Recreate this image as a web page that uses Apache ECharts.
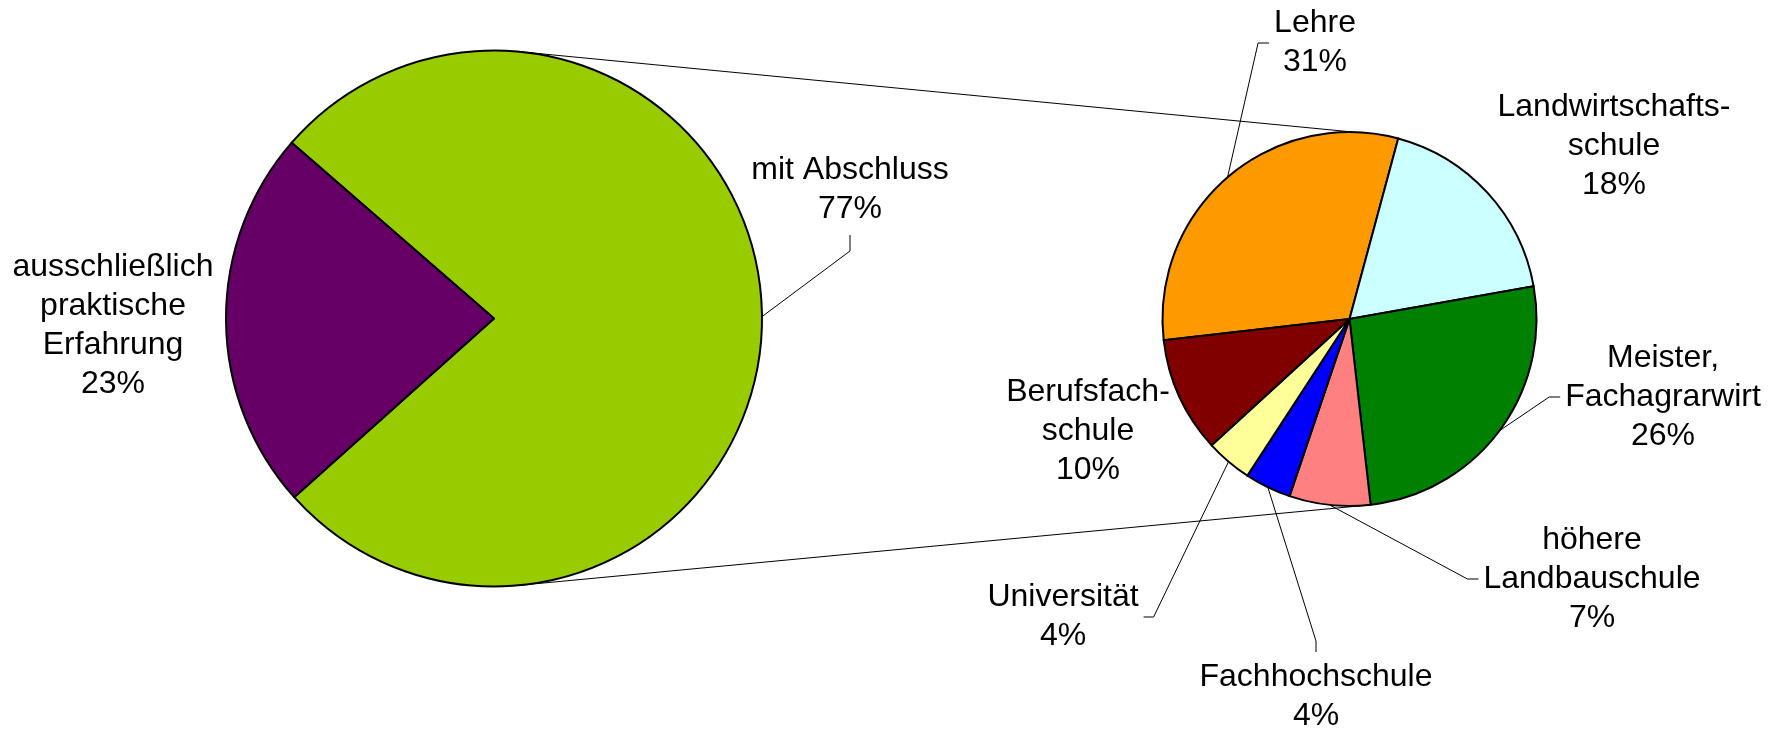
<!DOCTYPE html>
<html>
<head>
<meta charset="utf-8">
<script src="https://cdn.jsdelivr.net/npm/echarts@6/dist/echarts.min.js"></script>
<style>
  html, body { margin: 0; padding: 0; background: #fff; }
  #chart { width: 1777px; height: 732px; }
</style>
</head>
<body>
<div id="chart"></div>
<script>
// Pie-of-pie: share with a formal qualification, broken down by type of qualification.

var mainNames = ['mit Abschluss', 'ausschließlich\npraktische\nErfahrung'];
var mainValues = [77, 23];
var mainColors = ['#99cc00', '#660066'];

var detailNames = ['Lehre', 'Landwirtschafts-\nschule', 'Meister,\nFachagrarwirt', 'höhere\nLandbauschule',
                   'Fachhochschule', 'Universität', 'Berufsfach-\nschule'];
var detailValues = [31, 18, 26, 7, 4, 4, 10];
var detailColors = ['#ff9900', '#ccffff', '#008000', '#ff8080', '#0000ff', '#ffff99', '#800000'];

// label placement (block centre) and which side of the block the leader line attaches to
var mainSpots = [
  { x: 850, y: 190, side: 'bottom' },
  { x: 113, y: 326 }
];
var detailSpots = [
  { x: 1315, y: 43, side: 'left' },
  { x: 1614, y: 146 },
  { x: 1663, y: 397, side: 'left' },
  { x: 1592, y: 579, side: 'left' },
  { x: 1316, y: 697, side: 'top' },
  { x: 1063, y: 617, side: 'right' },
  { x: 1088, y: 431 }
];

var BIG = { cx: 494, cy: 318.5, r: 268, start: 139 };
var SMALL = { cx: 1349.5, cy: 319, r: 187, start: 186.5 };

function edgePoint(p, deg) {
  var a = deg * Math.PI / 180;
  return [p.cx + p.r * Math.cos(a), p.cy - p.r * Math.sin(a)];
}

function placeLabels(spots, pie) {
  return function (p) {
    var s = spots[p.dataIndex];
    var out = { x: s.x, y: s.y, align: 'center', verticalAlign: 'middle' };
    if (!s.side) return out;
    var w = p.labelRect.width, h = p.labelRect.height;
    var edge = p.labelLinePoints && p.labelLinePoints[0];
    if (!edge) return out;
    var end, knee;
    if (s.side === 'left') { end = [s.x - w / 2 - 5, s.y]; knee = [end[0] - 11, s.y]; }
    else if (s.side === 'right') { end = [s.x + w / 2 + 5, s.y]; knee = [end[0] + 10, s.y]; }
    else if (s.side === 'top') { end = [s.x, s.y - h / 2 - 6]; knee = [s.x, end[1] - 11]; }
    else { end = [s.x, s.y + h / 2 + 6]; knee = [s.x, end[1] + 16]; }
    out.labelLinePoints = [edge, knee, end];
    return out;
  };
}

function pieSeries(names, values, colors, geo, spots, noLine) {
  return {
    type: 'pie',
    center: [geo.cx, geo.cy],
    radius: geo.r,
    startAngle: geo.start,
    clockwise: true,
    avoidLabelOverlap: false,
    silent: true,
    data: names.map(function (n, i) {
      return {
        name: n, value: values[i],
        itemStyle: { color: colors[i] },
        labelLine: { show: !!spots[i].side }
      };
    }),
    itemStyle: { borderColor: '#000', borderWidth: 2 },
    label: {
      show: true, position: 'outside',
      color: '#000', fontFamily: 'Liberation Sans, Arial, sans-serif',
      fontSize: 32, lineHeight: 39, align: 'center',
      formatter: function (p) { return p.name + '\n' + p.value + '%'; }
    },
    labelLine: { show: true, length: 10, length2: 10, lineStyle: { color: '#000', width: 1 } },
    labelLayout: placeLabels(spots, geo)
  };
}

var chart = echarts.init(document.getElementById('chart'), null, { renderer: 'canvas' });

// connector lines from the big pie to the top and bottom of the detail pie
var topA = edgePoint(BIG, 84), topB = edgePoint(SMALL, 89);
var botA = edgePoint(BIG, -84), botB = edgePoint(SMALL, -85);

chart.setOption({
  animation: false,
  backgroundColor: '#fff',
  graphic: [
    { type: 'line', z: 0, shape: { x1: topA[0], y1: topA[1], x2: topB[0], y2: topB[1] },
      style: { stroke: '#000', lineWidth: 1 } },
    { type: 'line', z: 0, shape: { x1: botA[0], y1: botA[1], x2: botB[0], y2: botB[1] },
      style: { stroke: '#000', lineWidth: 1 } }
  ],
  series: [
    pieSeries(mainNames, mainValues, mainColors, BIG, mainSpots),
    pieSeries(detailNames, detailValues, detailColors, SMALL, detailSpots)
  ]
});
</script>
</body>
</html>
